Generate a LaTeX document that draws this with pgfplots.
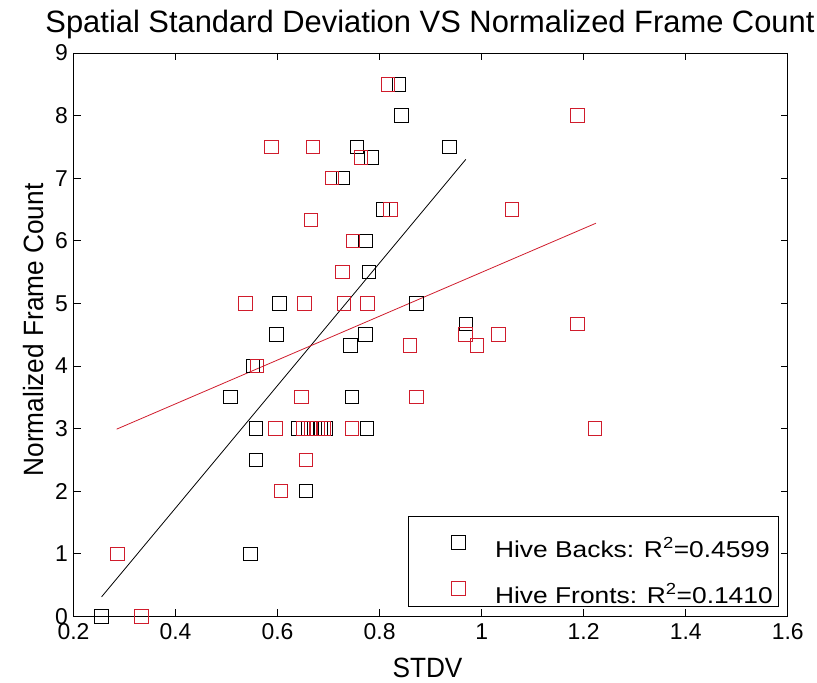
\documentclass[border=0pt]{standalone}
\usepackage{fontspec}
\setmainfont{Liberation Sans}
\newfontfamily\legfont[FakeStretch=1.15]{Liberation Sans}
\newfontfamily\labfont[FakeStretch=0.94]{Liberation Sans}
\usepackage{pgfplots}
\pgfplotsset{compat=1.18}
\definecolor{mred}{RGB}{208,28,44}
\begin{document}
\begin{tikzpicture}[x=1bp,y=1bp]
\path[use as bounding box] (0,0) rectangle (817,683);
\begin{axis}[
  at={(73.5bp,66.7bp)}, anchor=south west,
  width=714.2bp, height=563.3bp, scale only axis,
  xmin=0.2, xmax=1.6, ymin=0, ymax=9,
  xtick={0.2,0.4,0.6,0.8,1,1.2,1.4,1.6},
  xticklabels={0.2,0.4,0.6,0.8,1,1.2,1.4,1.6},
  ytick={0,1,2,3,4,5,6,7,8,9},
  yticklabels={0,1,2,3,4,5,6,7,8,9},
  tick align=inside, major tick length=7bp,
  tick style={black, line width=0.8bp},
  axis line style={black, line width=0.9bp},
  ticklabel style={font=\fontsize{23}{25}\selectfont},
  xticklabel style={yshift=-4bp},
  yticklabel style={xshift=-2bp},
  clip=false,
  legend image code/.code={\path[draw=none,fill=none] (0bp,-8bp) rectangle (52bp,8bp);
     \draw[mark repeat=2,mark phase=2,#1] plot coordinates {(0bp,-4bp)(46bp,-4bp)(52bp,-4bp)};},
  legend style={at={(0.988,0.017)}, anchor=south east, draw=black, line width=0.9bp,
    font=\legfont\fontsize{23}{25}\selectfont, inner xsep=4bp, inner ysep=0bp,
    row sep=1.7bp,
    nodes={inner xsep=2bp, inner ysep=0bp, text height=41.3bp, text depth=2.7bp},
    /tikz/every odd column/.append style={column sep=28bp}},
  legend cell align=left,
]
\addplot[only marks, mark=square, mark size=6.7bp, black, mark options={line width=0.9bp}] coordinates {
(0.838,8.5) (0.843,8) (0.756,7.5) (0.937,7.5) (0.784,7.33) (0.728,7) (0.806,6.5)
(0.772,6) (0.779,5.5) (0.604,5) (0.872,5) (0.969,4.67) (0.598,4.5) (0.772,4.5)
(0.743,4.33) (0.552,4) (0.508,3.5) (0.746,3.5) (0.558,3) (0.640,3) (0.660,3)
(0.672,3) (0.684,3) (0.694,3) (0.775,3) (0.558,2.5) (0.656,2) (0.547,1) (0.255,0)
};
\addlegendentry{Hive Backs: R\textsuperscript{2}=0.4599}
\addplot[only marks, mark=square, mark size=6.7bp, mred, mark options={line width=0.9bp}] coordinates {
(0.816,8.5) (1.188,8) (0.588,7.5) (0.669,7.5) (0.763,7.33) (0.707,7) (0.821,6.5)
(1.059,6.5) (0.666,6.33) (0.748,6) (0.727,5.5) (0.537,5) (0.653,5) (0.730,5)
(0.776,5) (1.188,4.67) (0.968,4.5) (1.033,4.5) (0.859,4.33) (0.991,4.33) (0.560,4)
(0.647,3.5) (0.872,3.5) (0.596,3) (0.650,3) (0.666,3) (0.678,3) (0.690,3)
(0.746,3) (1.222,3) (0.656,2.5) (0.607,2) (0.286,1) (0.333,0)
};
\addlegendentry{Hive Fronts: R\textsuperscript{2}=0.1410}
\addplot[black, line width=0.8bp, forget plot] coordinates {(0.255,0.31) (0.969,7.30)};
\addplot[mred, line width=0.8bp, forget plot] coordinates {(0.2846,2.99) (1.224,6.28)};
\end{axis}
\node[anchor=base, font=\fontsize{31}{33}\selectfont] at (430,650) {Spatial Standard Deviation VS Normalized Frame Count};
\node[anchor=base, font=\labfont\fontsize{28}{30}\selectfont] at (427.5,5) {STDV};
\node[anchor=base, rotate=90, font=\labfont\fontsize{28}{30}\selectfont] at (43,353) {Normalized Frame Count};
\end{tikzpicture}
\end{document}
